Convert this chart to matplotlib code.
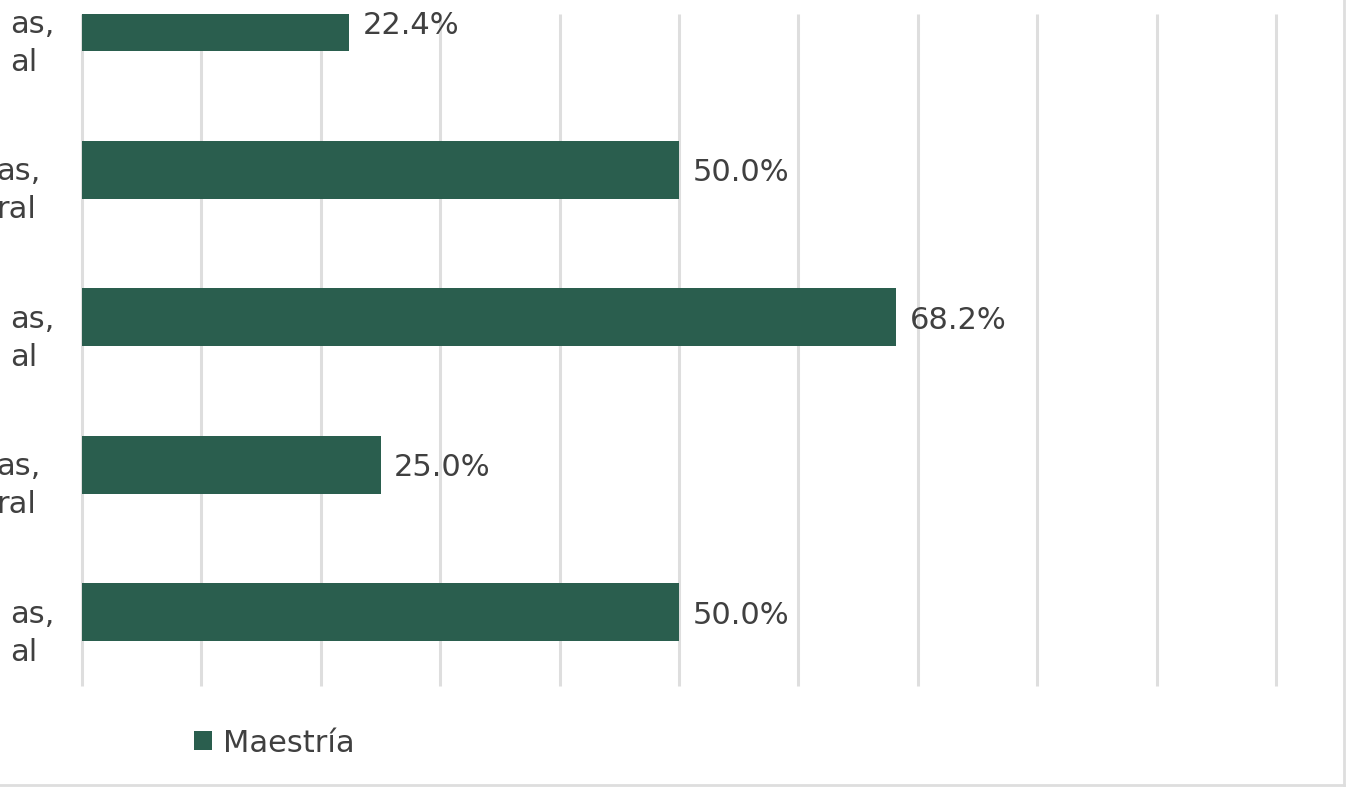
import matplotlib
matplotlib.use("Agg")
import matplotlib.pyplot as plt
import matplotlib.transforms as mtransforms
from matplotlib.patches import Patch
from matplotlib.lines import Line2D

# data (top to bottom as in the picture)
categories = ["as,\nal", "as,\nral", "as,\nal", "as,\nral", "as,\nal"]
values = [22.4, 50.0, 68.2, 25.0, 50.0]
series_name = "Maestría"

bar_color = "#2a5e4e"
grid_color = "#dedede"
text_color = "#404040"

plt.rcParams['font.family'] = ['DejaVu Sans']

fig = plt.figure(figsize=(13.48, 7.89), dpi=100)
ax = fig.add_axes([82/1348, 1 - 686/789, (1276 - 82)/1348, (686 - 14)/789])

n = len(values)
ypos = list(range(n))[::-1]   # first category at the top
ax.barh(ypos, values, height=0.39, color=bar_color, zorder=3)

for y, v in zip(ypos, values):
    ax.text(v + 1.15, y - 0.02, "%.1f%%" % v, va="center", ha="left",
            fontsize=22, color=text_color, zorder=4, clip_on=False)

ax.set_xlim(0, 100)
ax.set_ylim(-0.5, 4.056)
ax.set_xticks(range(0, 101, 10))
ax.set_yticks([])
ax.tick_params(axis="x", length=0, labelbottom=False)
ax.grid(axis="x", color=grid_color, linewidth=2.2, zorder=0)
for gl in ax.get_xgridlines():
    gl.set_clip_on(False)
    gl.set_solid_capstyle("butt")
for s in ax.spines.values():
    s.set_visible(False)

# category labels (cut at the left edge of the picture)
trans = mtransforms.blended_transform_factory(fig.transFigure, ax.transData)
for i, (y, lab) in enumerate(zip(ypos, categories)):
    xl = 10/1348 if i % 2 == 0 else -4/1348
    fig.text(xl, y + 0.085, lab, transform=trans, ha="left", va="top",
             multialignment="left", fontsize=22, color=text_color,
             linespacing=1.4)

# legend
fig.legend([Patch(facecolor=bar_color)], [series_name],
           loc="center", bbox_to_anchor=(274/1348, 1 - 743/789),
           frameon=False, fontsize=22, labelcolor=text_color,
           handlelength=0.6, handleheight=0.6, handletextpad=0.35)

# chart frame (right and bottom edges visible)
xr = 1344/1348
yb = 1 - 785/789
fig.add_artist(Line2D([xr, xr], [yb, 1], transform=fig.transFigure,
                      color=grid_color, linewidth=2))
fig.add_artist(Line2D([0, xr], [yb, yb], transform=fig.transFigure,
                      color=grid_color, linewidth=2))

fig.savefig("out.png", dpi=100)
